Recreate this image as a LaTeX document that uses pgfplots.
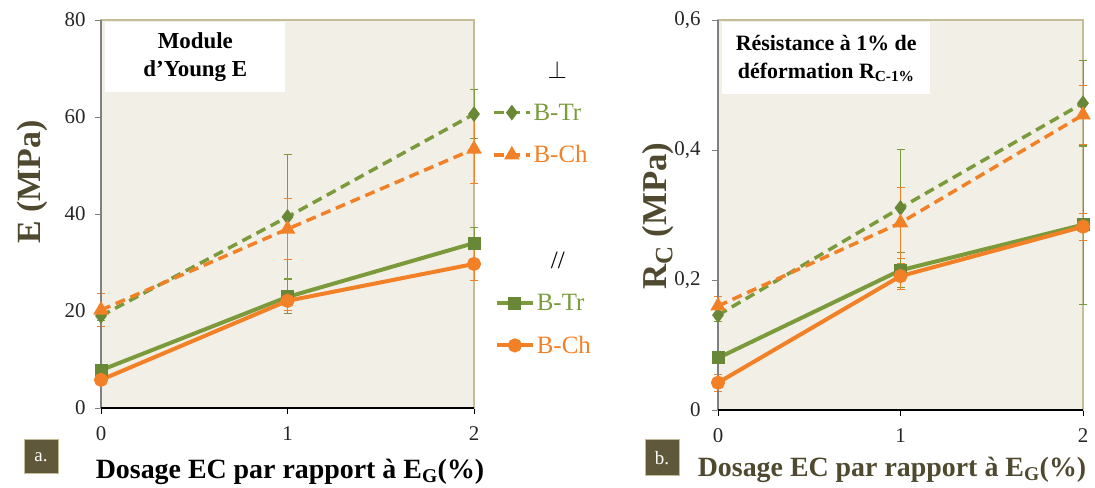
\documentclass[border=0pt]{standalone}
\usepackage{fontspec}
\setmainfont{Liberation Serif}
\usepackage{pgfplots}
\pgfplotsset{compat=1.18}
\definecolor{cgreen}{RGB}{122,154,60}
\definecolor{cgreenm}{RGB}{104,135,55}
\definecolor{corange}{RGB}{242,128,38}
\definecolor{cbg}{RGB}{242,239,230}
\definecolor{colive}{RGB}{79,73,48}
\definecolor{cbox}{RGB}{95,88,58}
\definecolor{ctan}{RGB}{196,189,151}
\pgfplotsset{
 myaxis/.style={scale only axis, axis background/.style={fill=cbg},
  axis line style={draw=ctan, line width=1.2bp},
  xmin=0, xmax=2, xtick={0,1,2}, xtick pos=bottom, ytick pos=left,
  tick align=outside, major tick length=6bp,
  xtick style={draw=black, line width=0.8bp}, ytick style={draw=gray, line width=0.8bp},
  tick label style={font=\fontsize{21}{21}\selectfont, text=black!85},
  xticklabel style={yshift=-9bp}, yticklabel style={xshift=-6bp},
  /pgf/number format/assume math mode=true,
  clip=false,
  legend style={draw=none, fill=none, font=\fontsize{25}{25}\selectfont, row sep=20bp, cells={anchor=west}},
  legend cell align=left,
  legend image code/.code={\draw[mark repeat=2,mark phase=2,##1] plot coordinates {(0bp,0bp) (18bp,0bp) (36bp,0bp)};},
  error bars/error bar style={solid, line width=1bp},
  error bars/error mark options={solid, line width=1bp, mark size=4bp, rotate=90},
 },
 trP/.style={cgreen, line width=3.5bp, dash pattern=on 10bp off 6bp, mark=diamond*, mark size=5bp, mark options={solid, fill=cgreenm, draw=cgreenm}},
 chP/.style={corange, line width=3.5bp, dash pattern=on 10bp off 6bp, mark=triangle*, mark size=5.5bp, mark options={solid, fill=corange, draw=corange}},
 trL/.style={cgreen, line width=4bp, mark=square*, mark size=4.5bp, mark options={solid, fill=cgreenm, draw=cgreenm}},
 chL/.style={corange, line width=4bp, mark=*, mark size=5bp, mark options={solid, fill=corange, draw=corange}},
}
\begin{document}
\begin{tikzpicture}
\useasboundingbox (0,0) rectangle (1095bp,488bp);
% ---------- left panel ----------
\begin{axis}[myaxis, at={(101bp,80bp)}, anchor=south west, width=373bp, height=388bp,
  ymin=0, ymax=80, ytick={0,20,40,60,80},
  legend style={at={(1.04,0.905)}, anchor=north west}]
\addlegendimage{empty legend}\addlegendentry{\hspace{14bp}\textcolor{black}{$\perp$}}
\addplot[trL, forget plot, error bars/.cd, y dir=both, y explicit] coordinates {(0,7.8) +- (0,0.8) (1,22.9) +- (0,3.5) (2,34.0) +- (0,3.2)};
\addplot[chL, forget plot, error bars/.cd, y dir=both, y explicit] coordinates {(0,5.8) +- (0,1.0) (1,22.1) +- (0,2.1) (2,29.7) +- (0,3.5)};
\addplot[trP, error bars/.cd, y dir=both, y explicit] coordinates {(0,19.0) +- (0,1.0) (1,39.4) +- (0,12.8) (2,60.6) +- (0,5.0)};
\addlegendentry{\textcolor{cgreen}{B-Tr}}
\addplot[chP, error bars/.cd, y dir=both, y explicit] coordinates {(0,20.2) +- (0,3.4) (1,36.9) +- (0,6.2) (2,53.4) +- (0,7.2)};
\addlegendentry{\textcolor{corange}{B-Ch}}
\draw[gray, line width=1.5bp] (rel axis cs:0,0) -- (rel axis cs:0,1);
\draw[black, line width=2.5bp] (rel axis cs:0,0) -- (rel axis cs:1,0);
\node[fill=white, anchor=north west, minimum width=180bp, minimum height=70bp, align=center, font=\fontsize{23}{28}\selectfont\bfseries, inner sep=0pt] at (rel axis cs:0.011,0.995) {Module\\d’Young E};
\end{axis}
% ---------- right panel ----------
\begin{axis}[myaxis, at={(718bp,78bp)}, anchor=south west, width=365bp, height=390bp,
  ymin=0, ymax=0.6, ytick={0,0.2,0.4,0.6}, yticklabels={0,{0,2},{0,4},{0,6}},
  yticklabel style={xshift=-2bp},
  legend style={at={(-0.62,0.415)}, anchor=north west}]
\addlegendimage{empty legend}\addlegendentry{\hspace{14bp}\textcolor{black}{//}}
\addplot[trL, error bars/.cd, y dir=both, y explicit] coordinates {(0,0.080) +- (0,0.008) (1,0.215) +- (0,0.027) (2,0.285) +- (0,0.122)};
\addlegendentry{\textcolor{cgreen}{B-Tr}}
\addplot[chL, error bars/.cd, y dir=both, y explicit] coordinates {(0,0.042) +- (0,0.013) (1,0.206) +- (0,0.020) (2,0.282) +- (0,0.021)};
\addlegendentry{\textcolor{corange}{B-Ch}}
\addplot[trP, forget plot, error bars/.cd, y dir=both, y explicit] coordinates {(0,0.146) +- (0,0.010) (1,0.311) +- (0,0.089) (2,0.472) +- (0,0.066)};
\addplot[chP, forget plot, error bars/.cd, y dir=both, y explicit] coordinates {(0,0.160) +- (0,0.015) (1,0.288) +- (0,0.055) (2,0.454) +- (0,0.045)};
\draw[gray, line width=1.5bp] (rel axis cs:0,0) -- (rel axis cs:0,1);
\draw[black, line width=2.5bp] (rel axis cs:0,0) -- (rel axis cs:1,0);
\node[fill=white, anchor=north west, minimum width=208bp, minimum height=72bp, align=center, font=\fontsize{22}{28}\selectfont\bfseries, inner sep=0pt] at (rel axis cs:0.011,0.995) {Résistance à 1\% de\\déformation R\textsubscript{C-1\%}};
\end{axis}
% ---------- labels ----------
\node[rotate=90, text=colive, font=\fontsize{34}{34}\selectfont\bfseries] at (32bp,306bp) {E (MPa)};
\node[rotate=90, text=colive, font=\fontsize{35}{35}\selectfont\bfseries] at (658bp,272bp) {R\raisebox{-6bp}{\fontsize{25}{25}\selectfont C} (MPa)};
\node[anchor=base, font=\fontsize{28}{28}\selectfont\bfseries, text=black] at (290bp,10bp) {Dosage EC par rapport à E\textsubscript{G}(\%)};
\node[anchor=base, font=\fontsize{28}{28}\selectfont\bfseries, text=colive] at (892bp,12bp) {Dosage EC par rapport à E\textsubscript{G}(\%)};
\node[fill=cbox, draw=ctan, line width=1bp, minimum width=34bp, minimum height=34bp, text=white, font=\fontsize{19}{19}\selectfont] at (41bp,31bp) {a.};
\node[fill=cbox, draw=ctan, line width=1bp, minimum width=34bp, minimum height=36bp, text=white, font=\fontsize{19}{19}\selectfont] at (662bp,30bp) {b.};
\end{tikzpicture}
\end{document}
